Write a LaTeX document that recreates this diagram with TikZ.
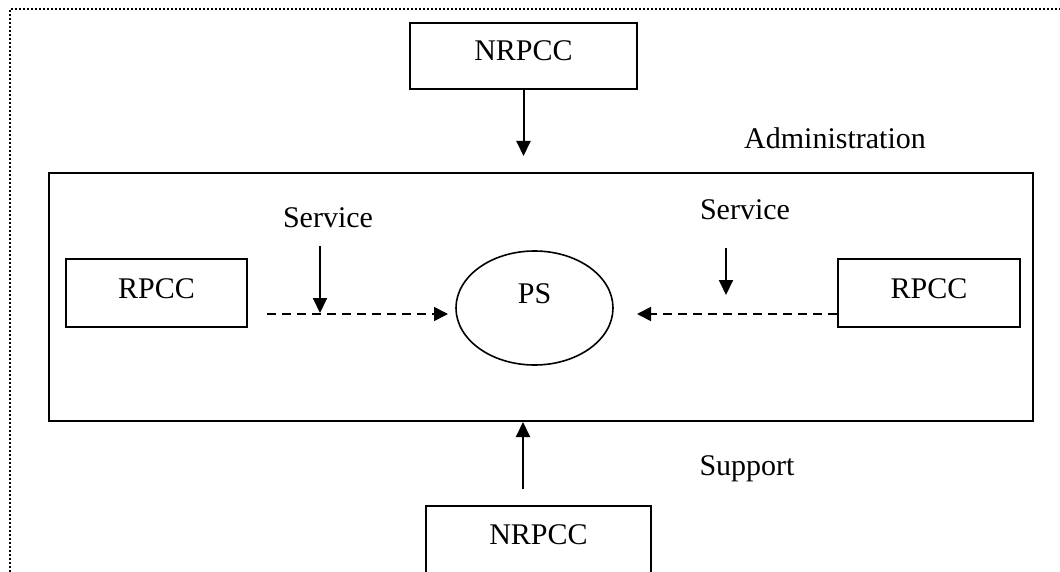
\documentclass[tikz,border=0pt]{standalone}
\usepackage{fontspec}
\setmainfont{Liberation Serif}
\usetikzlibrary{arrows.meta,shapes.geometric}
\begin{document}
\begin{tikzpicture}[x=1pt,y=-1pt,
  every node/.style={font=\fontsize{30pt}{36pt}\selectfont},
  unit/.style={draw, line width=2pt, inner sep=0pt, text height=20pt, text depth=10pt},
  arr/.style={line width=2pt, -{Triangle[length=15pt,width=14pt]}},
  darr/.style={line width=1.6pt, dash pattern=on 9pt off 6pt, -{Triangle[length=14pt,width=14pt]}},
  edge border/.style={line width=2pt, dash pattern=on 2pt off 2pt}]
\useasboundingbox (0,0) rectangle (1060,572);

% page frame: dotted top and left edges
\draw[edge border] (10,572) -- (10,9) -- (1060,9);

% outer frame
\node[draw, line width=2pt, minimum width=984pt, minimum height=248pt, inner sep=0pt] (frame) at (541,297) {};

% boxes
\node[unit, minimum width=227pt, minimum height=66pt] (nrtop) at (523.5,56) {NRPCC};
\node[unit, minimum width=225pt, minimum height=70pt, text depth=14pt] (nrbot) at (538.5,541) {NRPCC};
\node[unit, minimum width=181pt, minimum height=68pt] (rl) at (156.5,293) {RPCC};
\node[unit, minimum width=182pt, minimum height=68pt] (rr) at (929,293) {RPCC};
\node[ellipse, draw, line width=1.6pt, minimum width=157pt, minimum height=114pt, inner sep=0pt,
      text height=20pt, text depth=30pt] (ps) at (534.5,308) {PS};

% labels
\node[anchor=base] (adm) at (835,149) {Administration};
\node[anchor=base] (svl) at (328,228) {Service};
\node[anchor=base] (svr) at (745,220) {Service};
\node[anchor=base] (sup) at (747,475) {Support};

% connector end points
\coordinate (admtip) at (523,156);
\coordinate (suptail) at (523,489);
\coordinate (dl0) at (267,314);
\coordinate (dl1) at (448,314);
\coordinate (dr1) at (637,314);
\coordinate (sl0) at (320,246);
\coordinate (sl1) at (320,313);
\coordinate (sr0) at (726,248);
\coordinate (sr1) at (726,295);

% connectors
\draw[arr] (nrtop.south) -- (nrtop.south |- admtip);
\draw[arr] (suptail) -- (suptail |- frame.south);
\draw[darr] (dl0) -- (dl1);
\draw[darr] (rr.west |- dr1) -- (dr1);
\draw[arr] (sl0) -- (sl1);
\draw[arr] (sr0) -- (sr1);
\end{tikzpicture}
\end{document}
